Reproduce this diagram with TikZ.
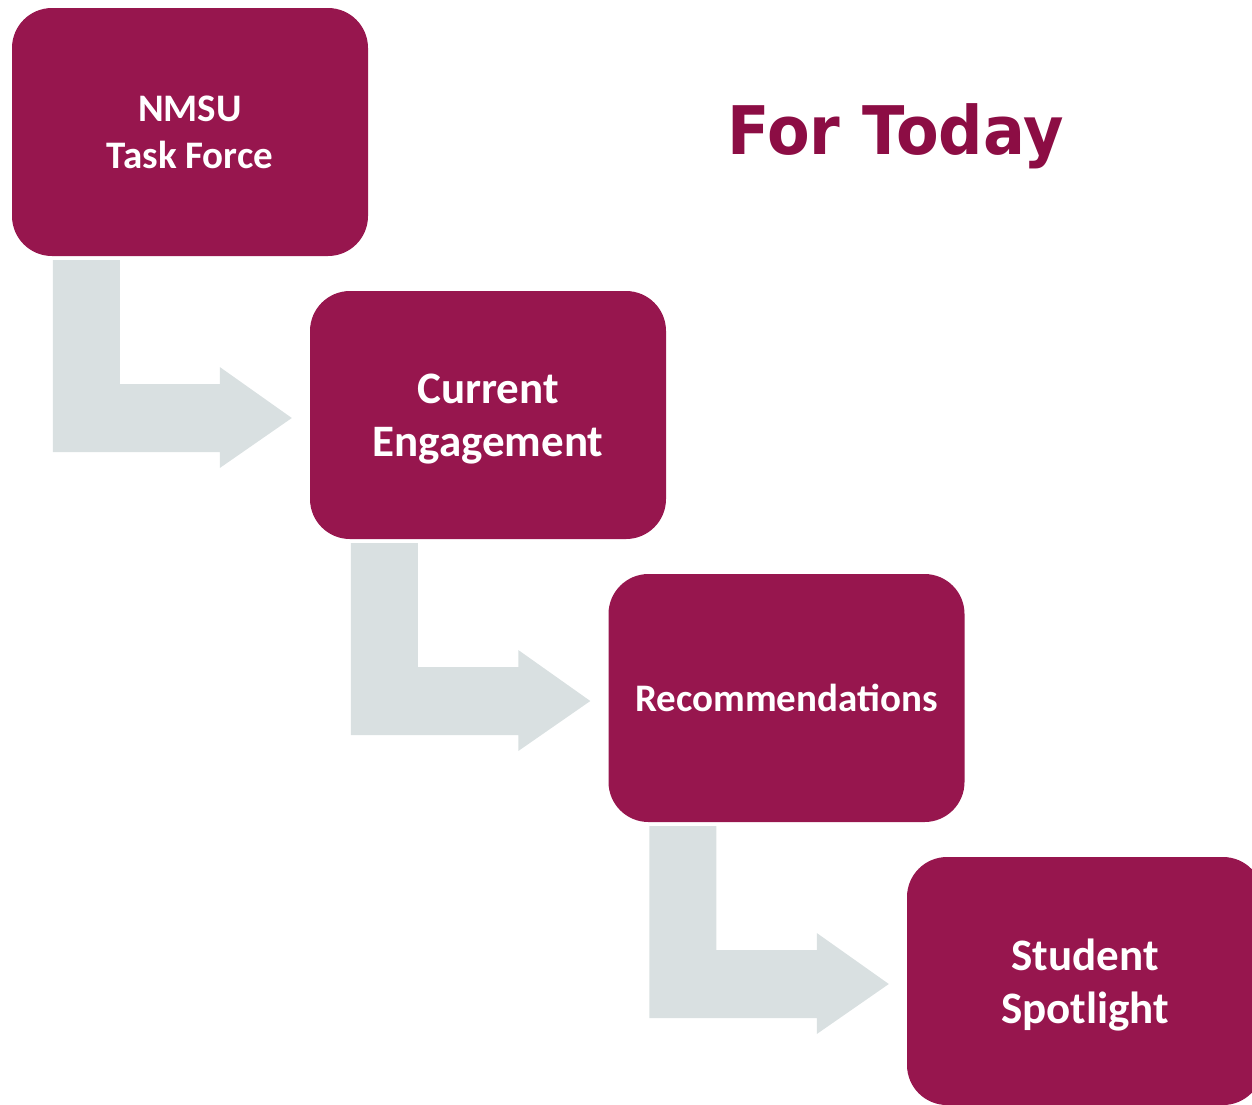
\documentclass[tikz,border=0pt]{standalone}
\usepackage{fontspec}
\setmainfont{Carlito}
\newfontfamily\titlefont{DejaVu Sans}
\usetikzlibrary{calc}
\definecolor{crimson}{HTML}{97164E}
\definecolor{titlered}{HTML}{8C0D44}
\definecolor{arrowgray}{HTML}{D9E0E1}
\tikzset{
  stepbox/.style={rectangle, fill=crimson, rounded corners=40pt, minimum width=356pt, minimum height=248pt, inner sep=0pt, align=center, text=white, font=\fontsize{39}{47}\selectfont\bfseries},
  bigtext/.style={font=\fontsize{45}{53}\selectfont\bfseries, text depth=0pt}
}
\newcommand{\bentconn}[2]{%
  \fill[arrowgray] ($(#1.south west)+(41,4)$) -- ($(#1.south west)+(108,4)$) -- ($(#1.south west)+(108,128)$)
    -- ($(#2.west)+(-90,-31)$) -- ($(#2.west)+(-90,-48)$) -- ($(#2.west)+(-18,3)$) -- ($(#2.west)+(-90,53)$)
    -- ($(#2.west)+(-90,37)$) -- ($(#1.south west)+(41,196)$) -- cycle;}
\begin{document}
\begin{tikzpicture}[x=1pt,y=-1pt]
\useasboundingbox (0,0) rectangle (1252,1104);
\clip (0,0) rectangle (1252,1104);
\node[stepbox] (b1) at (190,132) {NMSU\\Task Force};
\node[stepbox, bigtext] (b2) at (488,415) {Current\\Engagement};
\node[stepbox] (b3) at (786.5,698) {Recommendations};
\node[stepbox, bigtext] (b4) at (1085,981) {Student\\Spotlight};
\bentconn{b1}{b2}
\bentconn{b2}{b3}
\bentconn{b3}{b4}
\node[anchor=base, text=titlered, inner sep=0pt, font=\titlefont\bfseries\fontsize{67}{80}\selectfont] (title) at (895.5,154) {\scalebox{0.927}[1]{For Today}};
\end{tikzpicture}
\end{document}
